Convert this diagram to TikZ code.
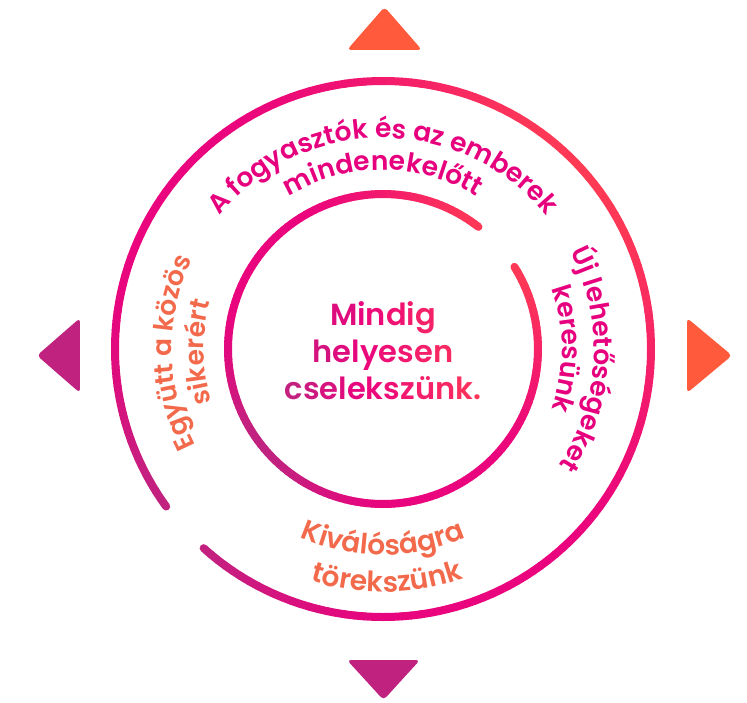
\documentclass[tikz,border=0pt]{standalone}
\usepackage{fontspec}
\setmainfont{Poppins}[UprightFont={* SemiBold},BoldFont={* Bold}]
\usetikzlibrary{decorations.text}

\definecolor{brandpurple}{HTML}{C0237F}
\definecolor{brandmagenta}{HTML}{EA047E}
\definecolor{brandred}{HTML}{FF3A55}
\definecolor{brandorange}{HTML}{FF5A3C}
\definecolor{labelpink}{HTML}{E6007E}
\definecolor{labelorange}{HTML}{F26A4B}

% colour of the ring at angle #1
\newcommand\ringcolor[1]{%
	\pgfmathsetmacro\ringred{100*max(0,cos(#1-40))^2}%
	\pgfmathsetmacro\ringpur{100*max(0,-cos(#1-40))^6}%
	\colorlet{ringc}{brandred!\ringred!brandmagenta}%
	\colorlet{ringc}{brandpurple!\ringpur!ringc}}
% one letter of the motto, #1 = position in percent
\newcommand\gl[2]{%
	\ifnum#1<40 \textcolor{brandmagenta!\the\numexpr#1*100/40\relax!brandpurple}{#2}%
	\else\textcolor{brandred!\the\numexpr(#1-40)*100/60\relax!brandmagenta}{#2}\fi}
\newcommand\arcfont{\fontsize{26.5}{26.5}\selectfont}
\newcommand\lowfont{\fontsize{28}{28}\selectfont}

\begin{document}
\begin{tikzpicture}[x=1pt,y=1pt,
		ringseg/.style={line width=8pt,line cap=round},
		arclabel/.style={decorate,decoration={text along path,text align=center,text color=#1}},
		arrowtri/.style={fill=#1,rounded corners=4pt}]
	\useasboundingbox (-383,-353) rectangle (364,349);

	% outer ring, gap lower left
	\foreach \a in {228,230,...,574}{
		\ringcolor{\a}
		\draw[ringseg,ringc] (\a:268) arc[start angle=\a,end angle=\a+2,radius=268];
	}
	% inner ring, gap upper right
	\foreach \a in {52,54,...,391}{
		\ringcolor{\a}
		\draw[ringseg,ringc] (\a:155) arc[start angle=\a,end angle=\a+2,radius=155];
	}

	% the four arrow heads
	\path[arrowtri=brandorange] (-36,299) -- (1.5,342) -- (39,299) -- cycle;
	\path[arrowtri=brandorange] (304,31) -- (349,-6.5) -- (304,-44) -- cycle;
	\path[arrowtri=brandpurple] (-303,31) -- (-303,-44) -- (-346,-6.5) -- cycle;
	\path[arrowtri=brandpurple] (-36,-311) -- (37,-311) -- (0.5,-351) -- cycle;

	% texts along the rings
	\path[arclabel=labelpink,decoration={text={|\arcfont|A fogyasztók és az emberek}}]
		(165:211) arc[start angle=165,end angle=15,radius=211];
	\path[arclabel=labelpink,decoration={text={|\arcfont|mindenekelőtt}}]
		(160:179) arc[start angle=160,end angle=20,radius=179];
	\path[arclabel=labelpink,decoration={text={|\arcfont|Új lehetőségeket}}]
		(67:211) arc[start angle=67,end angle=-73,radius=211];
	\path[arclabel=labelpink,decoration={text={|\arcfont|keresünk}}]
		(70:179) arc[start angle=70,end angle=-70,radius=179];
	\path[arclabel=labelorange,decoration={text={|\arcfont|Együtt a közös}}]
		(251:211) arc[start angle=251,end angle=111,radius=211];
	\path[arclabel=labelorange,decoration={text={|\arcfont|sikerért}}]
		(251:179) arc[start angle=251,end angle=111,radius=179];
	\path[arclabel=labelorange,decoration={text={|\lowfont|Kiválóságra}}]
		(200:206) arc[start angle=200,end angle=340,radius=206];
	\path[arclabel=labelorange,decoration={text={|\lowfont|törekszünk}}]
		(201:243) arc[start angle=201,end angle=341,radius=243];

	% motto in the middle
	\node[align=center,font=\fontsize{30.5}{37}\selectfont] (motto) at (0,-2) {%
		\gl{30}{M}\gl{39}{i}\gl{47}{n}\gl{57}{d}\gl{65}{i}\gl{72}{g}\\
		\gl{20}{h}\gl{29}{e}\gl{36}{l}\gl{44}{y}\gl{53}{e}\gl{62}{s}\gl{71}{e}\gl{80}{n}\\
		\gl{4}{c}\gl{12}{s}\gl{21}{e}\gl{29}{l}\gl{36}{e}\gl{45}{k}\gl{53}{s}\gl{62}{z}\gl{70}{ü}\gl{79}{n}\gl{88}{k}\gl{96}{.}};
\end{tikzpicture}
\end{document}
